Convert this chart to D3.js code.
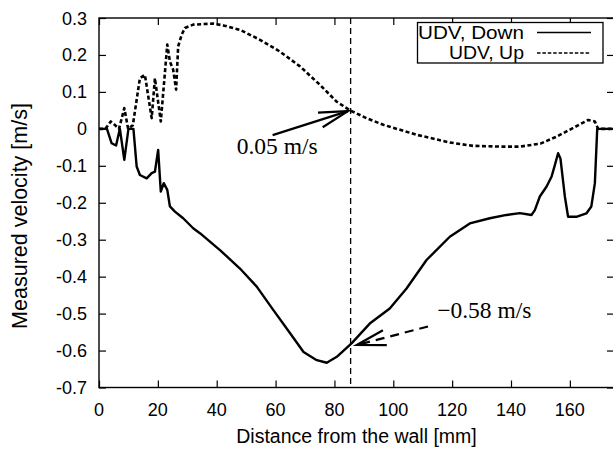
<!DOCTYPE html>
<html>
<head>
<meta charset="utf-8">
<script src="https://cdn.jsdelivr.net/npm/d3@7"></script>
<style>
html,body{margin:0;padding:0;background:#fff;}
svg{display:block;}
</style>
</head>
<body>
<svg id="chart" width="613" height="449"></svg>
<script>
// ---- data ----
const downX = [0,2.7,4.3,5.8,7.1,8.6,10.0,11.7,12.8,13.9,16.2,17.9,19.0,20.1,21.0,22.0,23.2,24.1,25.8,28.6,32.0,34.4,41.1,47.9,53.6,59.2,65.0,69.5,74.0,77.4,80.8,85.9,92.0,98.8,104.5,111.3,119.2,126.0,132.8,138.5,143.0,147.0,148.1,149.8,152.1,153.8,154.9,156.0,156.8,158.3,159.4,162.2,165.6,167.3,168.5,169.3,175];
const downV = [0,0,-0.039,-0.045,0,-0.084,0,0,-0.102,-0.125,-0.134,-0.12,-0.116,-0.057,-0.17,-0.147,-0.165,-0.21,-0.224,-0.242,-0.269,-0.283,-0.328,-0.378,-0.427,-0.49,-0.554,-0.604,-0.626,-0.633,-0.617,-0.58,-0.527,-0.486,-0.432,-0.355,-0.292,-0.256,-0.242,-0.233,-0.228,-0.233,-0.22,-0.183,-0.156,-0.129,-0.098,-0.066,-0.08,-0.183,-0.238,-0.238,-0.229,-0.21,-0.147,0,0];
const upX = [0,2.2,4.0,5.2,6.8,8.6,9.9,11.5,13.9,15.6,17.9,19.0,21.0,23.2,24.1,25.2,26.2,26.9,28.1,29.2,32.0,38.8,42.2,47.9,54.7,61.5,68.3,75.1,80.7,85.3,90.9,96.6,107.9,119.2,127.1,136.2,143.0,150.0,155.5,161.0,166.2,168.5,169.6,175];
const upV = [0,0,0.02,0.012,0,0.056,0,0.01,0.137,0.146,0.029,0.137,0.02,0.228,0.182,0.16,0.106,0.223,0.255,0.273,0.282,0.285,0.28,0.268,0.241,0.209,0.169,0.119,0.074,0.05,0.029,0.011,-0.016,-0.037,-0.046,-0.048,-0.048,-0.04,-0.021,0.002,0.024,0.02,0,0];
const xTicks = [0,20,40,60,80,100,120,140,160];
const yTicks = [-0.7,-0.6,-0.5,-0.4,-0.3,-0.2,-0.1,0,0.1,0.2,0.3];
const yTickLabels = ["-0.7","-0.6","-0.5","-0.4","-0.3","-0.2","-0.1","0","0.1","0.2","0.3"];
const seriesNames = ["UDV, Down","UDV, Up"];
const markerX = 85.5;
const annotUp = {text:"0.05 m/s", tx:46.8, ty:-0.068, x1:59, y1:-0.017, x2:84.6, y2:0.048};
const annotDown = {text:"\u22120.58 m/s", tx:114.9, ty:-0.513, x1:111.8, y1:-0.535, x2:87.6, y2:-0.585};
const xTitle = "Distance from the wall [mm]";
const yTitle = "Measured velocity [m/s]";

// ---- layout ----
const L = 99, R = 614, T = 18, B = 387.5;
const svg = d3.select("#chart");
const x = d3.scaleLinear().domain([0,175]).range([L,R]);
const y = d3.scaleLinear().domain([-0.7,0.3]).range([B,T]);
const sans = "'Liberation Sans', Arial, Helvetica, sans-serif";
const serif = "'Liberation Serif', 'Times New Roman', serif";

// axes with inward ticks
const tickLen = 7;
svg.append("g").attr("transform",`translate(0,${B})`)
  .call(d3.axisBottom(x).tickValues(xTicks).tickSize(-tickLen).tickSizeOuter(0).tickFormat(""))
  .call(g=>g.select(".domain").remove());
svg.append("g").attr("transform",`translate(0,${T})`)
  .call(d3.axisTop(x).tickValues(xTicks).tickSize(-tickLen).tickSizeOuter(0).tickFormat(""))
  .call(g=>g.select(".domain").remove());
svg.append("g").attr("transform",`translate(${L},0)`)
  .call(d3.axisLeft(y).tickValues(yTicks).tickSize(-tickLen).tickSizeOuter(0).tickFormat(""))
  .call(g=>g.select(".domain").remove());
svg.append("g").attr("transform",`translate(${R},0)`)
  .call(d3.axisRight(y).tickValues(yTicks).tickSize(-tickLen).tickSizeOuter(0).tickFormat(""))
  .call(g=>g.select(".domain").remove());
svg.selectAll(".tick line").attr("stroke","#000").attr("stroke-width",1.2);

// tick labels
svg.append("g").selectAll("text").data(xTicks).join("text")
  .attr("x",d=>x(d)).attr("y",416).attr("text-anchor","middle")
  .attr("font-family",sans).attr("font-size",18).text(d=>d);
svg.append("g").selectAll("text").data(yTicks).join("text")
  .attr("x",87).attr("y",d=>y(d)+6.5).attr("text-anchor","end")
  .attr("font-family",sans).attr("font-size",18).text((d,i)=>yTickLabels[i]);

// titles
svg.append("text").attr("x",(L+R)/2).attr("y",443).attr("text-anchor","middle")
  .attr("font-family",sans).attr("font-size",19.5).text(xTitle);
svg.append("text").attr("transform",`translate(27,216) rotate(-90)`).attr("text-anchor","middle")
  .attr("font-family",sans).attr("font-size",21.5).text(yTitle);

// vertical marker
svg.append("line").attr("x1",x(markerX)).attr("x2",x(markerX)).attr("y1",T).attr("y2",B)
  .attr("stroke","#000").attr("stroke-width",1.3).attr("stroke-dasharray","6,4");

// series
const line = d3.line().x(d=>x(d[0])).y(d=>y(d[1]));
const downData = downX.map((v,i)=>[v,downV[i]]);
const upData = upX.map((v,i)=>[v,upV[i]]);
svg.append("path").datum(upData).attr("d",line).attr("fill","none").attr("stroke","#000")
  .attr("stroke-width",2.6).attr("stroke-dasharray","4,2.5").attr("stroke-linejoin","round");
svg.append("path").datum(downData).attr("d",line).attr("fill","none").attr("stroke","#000")
  .attr("stroke-width",2.4).attr("stroke-linejoin","round");

// frame
svg.append("rect").attr("x",L).attr("y",T).attr("width",R-L).attr("height",B-T)
  .attr("fill","none").attr("stroke","#000").attr("stroke-width",1.4);

// arrows
function arrow(a, dash){
  const px1=x(a.x1), py1=y(a.y1), px2=x(a.x2), py2=y(a.y2);
  svg.append("line").attr("x1",px1).attr("y1",py1).attr("x2",px2).attr("y2",py2)
    .attr("stroke","#000").attr("stroke-width",2.2).attr("stroke-dasharray",dash||null);
  const ang = Math.atan2(py1-py2, px1-px2);
  const hl = 30, ha = 0.26;
  const p = [[px2+hl*Math.cos(ang+ha), py2+hl*Math.sin(ang+ha)],[px2,py2],[px2+hl*Math.cos(ang-ha), py2+hl*Math.sin(ang-ha)]];
  svg.append("path").attr("d",d3.line()(p)).attr("fill","none").attr("stroke","#000").attr("stroke-width",2.2);
  svg.append("text").attr("x",x(a.tx)).attr("y",y(a.ty)).attr("font-family",serif)
    .attr("font-size",23.5).text(a.text);
}
arrow(annotUp, null);
arrow(annotDown, "9,6");

// legend
svg.append("rect").attr("x",417.5).attr("y",22.5).attr("width",185.5).attr("height",40.5)
  .attr("fill","#fff").attr("stroke","#000").attr("stroke-width",1.3);
const legY = [32.5, 53];
const legW = [106, 75];
seriesNames.forEach((n,i)=>{
  svg.append("text").attr("x",524).attr("y",legY[i]+6.3).attr("text-anchor","end")
    .attr("font-family",sans).attr("font-size",17.5)
    .attr("textLength",legW[i]).attr("lengthAdjust","spacingAndGlyphs").text(n);
  svg.append("line").attr("x1",537).attr("x2",591).attr("y1",legY[i]).attr("y2",legY[i])
    .attr("stroke","#000").attr("stroke-width",1.6).attr("stroke-dasharray",i===0?null:"3.5,1.9");
});
</script>
</body>
</html>
